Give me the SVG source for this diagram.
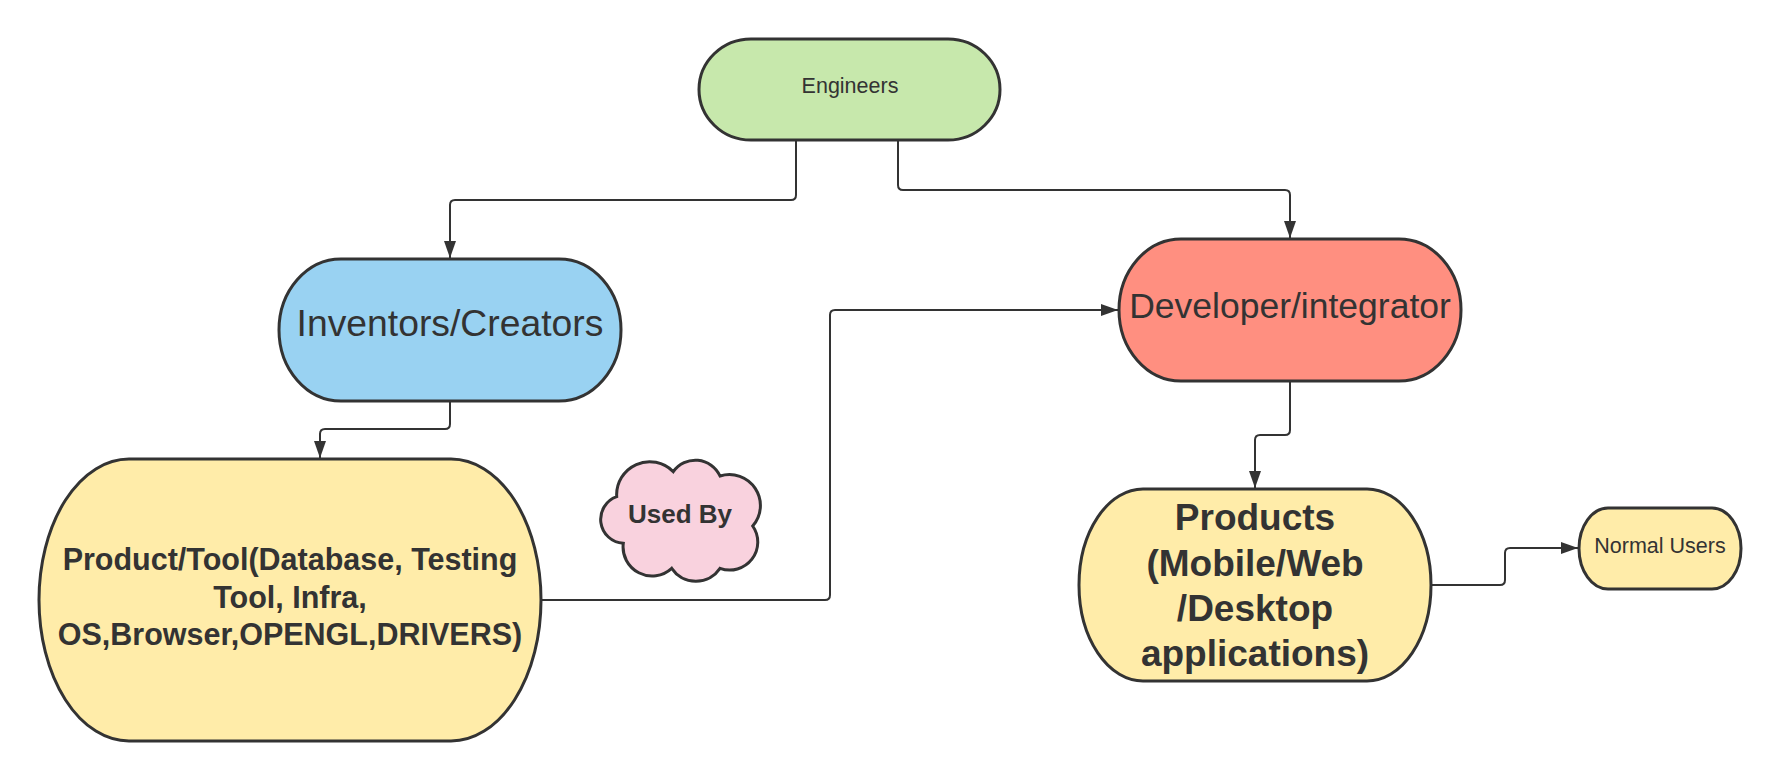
<svg xmlns="http://www.w3.org/2000/svg" width="1780" height="780" viewBox="0 0 1780 780">
<style>
.node{stroke:#333333;stroke-width:3}
.t{font-family:"Liberation Sans",Arial,sans-serif;fill:#333333;text-anchor:middle}
.b{font-weight:bold}
.conn{fill:none;stroke:#333333;stroke-width:2}
</style>
<defs>
<marker id="arr" markerUnits="userSpaceOnUse" markerWidth="18" markerHeight="13" refX="17" refY="6" orient="auto">
<path d="M0,0 L17,6 L0,12 z" fill="#333333"/>
</marker>
</defs>
<rect width="1780" height="780" fill="#ffffff"/>
<g id="connectors">
<path class="conn" marker-end="url(#arr)" d="M796,141 L796,195 Q796,200 791,200 L455,200 Q450,200 450,205 L450,258"/>
<path class="conn" marker-end="url(#arr)" d="M898,141 L898,185 Q898,190 903,190 L1285,190 Q1290,190 1290,195 L1290,238"/>
<path class="conn" marker-end="url(#arr)" d="M450,402 L450,424 Q450,429 445,429 L325,429 Q320,429 320,434 L320,458"/>
<path class="conn" marker-end="url(#arr)" d="M542,600 L825,600 Q830,600 830,595 L830,315 Q830,310 835,310 L1118,310"/>
<path class="conn" marker-end="url(#arr)" d="M1290,382 L1290,430 Q1290,435 1285,435 L1260,435 Q1255,435 1255,440 L1255,488"/>
<path class="conn" marker-end="url(#arr)" d="M1432,585 L1500,585 Q1505,585 1505,580 L1505,553 Q1505,548 1510,548 L1578,548"/>
</g>
<g id="engineers">
<rect class="node" x="699" y="39" width="301" height="101" rx="52" ry="50.5" fill="#c7e8ac"/>
<text class="t" x="850" y="93" font-size="21.5">Engineers</text>
</g>
<g id="inventors">
<rect class="node" x="279" y="259" width="342" height="142" rx="62" ry="71" fill="#99d2f2"/>
<text class="t" x="450" y="336" font-size="37.3">Inventors/Creators</text>
</g>
<g id="developer">
<rect class="node" x="1119" y="239" width="342" height="142" rx="62" ry="71" fill="#ff8f80"/>
<text class="t" x="1290" y="318" font-size="35.5">Developer/integrator</text>
</g>
<g id="product-tool">
<rect class="node" x="39" y="459" width="502" height="282" rx="90" ry="141" fill="#ffeca9"/>
<text class="t b" font-size="30.5"><tspan x="290" y="570">Product/Tool(Database, Testing</tspan><tspan x="290" y="607.5">Tool, Infra,</tspan><tspan x="290" y="645">OS,Browser,OPENGL,DRIVERS)</tspan></text>
</g>
<g id="used-by">
<path class="node" fill="#f9d2de" d="M616.7,496.7 A33,33 0 0 1 673.3,471.7 A27,27 0 0 1 720,476 A31,31 0 0 1 752.7,526 A28,28 0 0 1 720,568.3 A29,29 0 0 1 671.7,568.3 A29,29 0 0 1 623.3,543.3 A24,24 0 0 1 616.7,496.7 Z"/>
<text class="t b" x="680" y="523" font-size="26">Used By</text>
</g>
<g id="products">
<rect class="node" x="1079" y="489" width="352" height="192" rx="64" ry="96" fill="#ffeca9"/>
<text class="t b" font-size="37"><tspan x="1255" y="530">Products</tspan><tspan x="1255" y="575.5">(Mobile/Web</tspan><tspan x="1255" y="621">/Desktop</tspan><tspan x="1255" y="666">applications)</tspan></text>
</g>
<g id="normal-users">
<rect class="node" x="1579" y="508" width="162" height="81" rx="29" ry="40.5" fill="#ffeca9"/>
<text class="t" x="1660" y="553" font-size="21.5">Normal Users</text>
</g>
</svg>
